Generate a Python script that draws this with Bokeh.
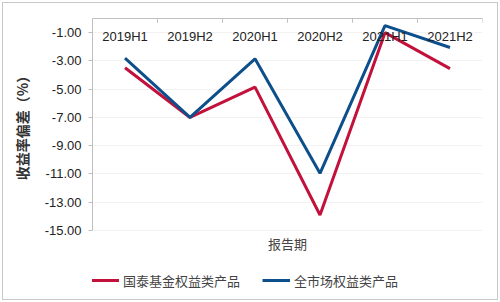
from bokeh.plotting import figure
from bokeh.models import (FactorRange, Range1d, FixedTicker, NumeralTickFormatter,
                          Legend, LegendItem)
from bokeh.core.properties import value
from bokeh.embed import file_html
from bokeh.resources import INLINE

periods = ["2019H1", "2019H2", "2020H1", "2020H2", "2021H1", "2021H2"]
guotai = [-3.48, -7.0, -4.85, -13.9, -1.0, -3.55]
market = [-2.8, -7.0, -2.85, -10.95, -0.5, -2.05]
y_ticks = [-1, -3, -5, -7, -9, -11, -13, -15]
y_title = "收益率偏差（%）"
x_title = "报告期"

RED = "#C2113A"
BLUE = "#0D4F8B"
GREY = "#BFBFBF"

# frame runs to the bottom of the canvas; the value axis itself is bounded to [-15, 0]
p = figure(width=500, height=302, x_range=FactorRange(*periods), y_range=Range1d(-19.95, 0),
           x_axis_location="above", output_backend="svg", toolbar_location=None,
           min_border_left=92, min_border_right=18, min_border_top=18, min_border_bottom=2)
p.outline_line_color = None
p.background_fill_color = None
p.border_fill_color = None
p.styles = {"background-color": "white",
            "box-shadow": "inset 0 0 0 2px white, inset 0 0 0 3px #C8C8C8"}

r1 = p.line(periods, guotai, line_color=RED, line_width=3)
r2 = p.line(periods, market, line_color=BLUE, line_width=3)

# category labels sit just inside the top edge of the plot
p.text(x=periods, y=-1.25, text=periods, text_align="center", text_baseline="middle",
       text_font=value("Liberation Sans"), text_font_size="13px", text_color="#222222")

# boundary tick marks on the top category axis
p.segment(x0=[(c, 0.5) for c in periods], x1=[(c, 0.5) for c in periods],
          y0=0, y1=-0.3, line_color=GREY, line_width=1)

# category-axis title under the plot
p.text(x=[(periods[2], 0.5)], y=-15.92, text=[x_title], text_align="center",
       text_baseline="middle", text_font=value("Noto Sans CJK SC"),
       text_font_size="13px", text_color="#444444")

yax = p.yaxis[0]
yax.bounds = (-15, 0)
yax.ticker = FixedTicker(ticks=y_ticks)
yax.formatter = NumeralTickFormatter(format="0.00")
yax.axis_line_color = GREY
yax.major_tick_line_color = GREY
yax.major_tick_out = 4
yax.major_tick_in = 0
yax.minor_tick_line_color = None
yax.major_label_standoff = 7
yax.major_label_text_font = "Liberation Sans"
yax.major_label_text_font_size = "13px"
yax.major_label_text_color = "#222222"
# leading ideographic spaces lift the title to the middle of the bounded axis
yax.axis_label = "\u3000" * 5 + y_title
yax.axis_label_text_font = "Noto Sans CJK SC"
yax.axis_label_text_font_size = "14px"
yax.axis_label_text_font_style = "bold"
yax.axis_label_text_color = "#333333"
yax.axis_label_standoff = 10

xax = p.xaxis[0]
xax.ticker = FixedTicker(ticks=[])
xax.axis_line_color = GREY
xax.major_tick_line_color = None
xax.minor_tick_line_color = None

p.xgrid.grid_line_color = None
p.ygrid.ticker = FixedTicker(ticks=y_ticks)
p.ygrid.grid_line_color = "#F2F2F2"

legend = Legend(items=[LegendItem(label="国泰基金权益类产品", renderers=[r1]),
                       LegendItem(label="全市场权益类产品", renderers=[r2])],
                orientation="horizontal", location=(-1, 10),
                label_text_font="Noto Sans CJK SC", label_text_font_size="13px",
                label_text_color="#444444", glyph_width=28, label_standoff=4,
                spacing=22, border_line_color=None, background_fill_alpha=0,
                margin=0, padding=2)
p.add_layout(legend)

open("out.html", "w").write(file_html(p, INLINE))
